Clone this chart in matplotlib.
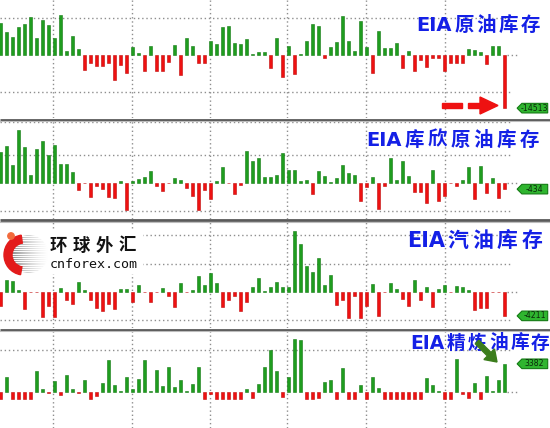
import matplotlib
matplotlib.use("Agg")
import matplotlib.pyplot as plt
import matplotlib.patches as mpatches
import numpy as np

plt.rcParams['font.family'] = ['Noto Sans CJK SC', 'DejaVu Sans']

# weekly changes, thousand barrels
crude = [8.8, 6.2, 4.8, 7.5, 8.4, 10.3, 4.5, 9.5, 8.2, 4.7,
         10.9, 1.2, 5.2, 1.7, -4.1, -2.1, -2.9, -3.0, -2.3, -6.8,
         -2.7, -5.0, 2.3, 0.5, -4.5, 2.5, -4.4, -4.5, -1.8, 2.6,
         -5.5, 4.5, 2.5, -2.1, -2.1, 3.7, 3.0, 7.5, 8.0, 3.4,
         2.9, 4.3, 0.3, 0.9, 0.9, -3.6, 4.7, -6.1, 2.5, -5.2,
         0.2, 3.9, 8.4, 7.9, -0.7, 2.1, 3.5, 10.5, 3.8, 1.2,
         9.4, 2.3, -5.0, 6.6, 1.8, 1.8, 3.2, -3.5, 1.2, -4.3,
         -1.4, -3.2, -0.9, -0.9, -4.3, -2.3, -2.3, -2.3, 1.5, 1.4,
         0.9, -2.5, 2.5, 2.5, -14.513]

cushing = [2.16, 2.63, 1.25, 3.76, 2.51, 0.59, 2.40, 2.94, 2.00, 2.68,
           1.32, 1.34, 0.78, -0.52, -0.02, -0.99, -0.24, -0.42, -0.99, -1.06,
           0.14, -1.88, 0.12, 0.28, 0.42, 0.82, -0.19, -0.54, -0.02, 0.35,
           0.24, -0.35, -0.89, -1.93, -0.47, -1.10, 0.12, 1.13, -0.02, -0.75,
           -0.16, 2.28, 1.57, 1.76, 0.42, 0.42, 0.59, 2.12, 0.94, 0.94,
           0.16, 0.19, -0.75, 0.82, 0.52, 0.05, 0.35, 1.25, 0.71, 0.59,
           -1.25, -0.28, 0.42, -1.83, -0.24, 1.76, 0.24, 1.57, 0.47, -0.63,
           -0.66, -1.41, 0.94, -1.29, -0.94, -0.02, -0.19, 0.19, 1.13, -1.10,
           1.18, -0.71, 0.35, -1.06, -0.434]

gasoline = [-2.53, 2.18, 1.88, 0.41, -2.94, -0.06, -0.06, -4.47, -2.53, -4.47,
            0.71, -1.35, -2.12, 1.71, 0.41, -1.35, -2.82, -3.41, -2.12, -2.94,
            0.53, 0.59, -1.76, 1.18, -0.06, -1.76, -0.06, 0.71, -0.76, -2.70,
            1.59, -0.06, 0.41, 2.76, 1.29, 3.35, 1.59, -2.70, -1.35, -0.76,
            -3.29, -1.76, 0.82, 2.47, 0.24, 0.82, 1.71, 0.82, 0.82, 10.70,
            8.47, 4.53, 3.53, 6.00, 1.29, 3.06, -2.23, -1.35, -4.59, -0.76,
            -4.59, -2.53, 1.41, -4.29, -0.06, 1.59, 0.53, -1.23, -2.53, 2.06,
            -1.35, 0.82, -2.70, 0.59, 1.29, -0.06, 1.12, 0.82, 0.41, -3.12,
            -2.82, -2.82, -0.06, -0.06, -4.211]

distillate = [-0.88, 1.8, -0.88, -0.88, -0.88, -0.88, 2.48, 0.32, -0.08, 1.28,
              -0.32, 2.0, 0.32, -0.08, 1.48, -0.88, -0.52, 1.08, 3.8, 0.8,
              0.12, 1.8, 0.32, 1.6, 3.8, 0.16, 2.6, 0.72, 3.0, 0.56,
              1.4, 0.12, 0.92, 3.0, -0.88, -0.28, -0.88, -0.88, -0.88, -0.88,
              -0.88, 0.32, -0.72, 1.0, 3.0, 5.0, 2.52, -0.6, 1.8, 6.32,
              6.2, -0.88, -0.88, -0.72, 1.2, 1.4, -0.88, 2.88, -0.88, -0.88,
              0.88, -0.88, 1.8, 0.52, -0.88, -0.88, -0.88, -0.88, -0.88, -0.88,
              -0.88, 1.72, 0.8, 0.12, -0.88, -0.88, 4.0, -0.2, -0.72, 1.08,
              -0.88, 1.92, 0.12, 1.48, 3.382]

titles = ['原油库存', '库欣原油库存', '汽油库存', '精炼油库存']
last_labels = ['-14513', '-434', '-4211', '3382']

W, H = 550, 428
GREEN, GREEN_E = '#1f9d1f', '#137a13'
RED, RED_E = '#ee1111', '#c00a0a'
GRID = '#8e8e8e'
BLUE = '#1420e6'

# panel layout in pixels: (values, top, bottom, ylim top, ylim bottom, h-grid values)
panels = [
    (crude, 0, 118, 15.0, -17.2, [-10, 10]),
    (cushing, 120, 219, 4.44, -2.54, [-2, 2, 4.3]),
    (gasoline, 221, 328, 12.5, -6.35, [-5, 5, 10]),
    (distillate, 331, 428, 7.32, -4.32, [5]),
]
# title: right edge of last char, y centre, char pitch, font size
title_pos = [(541, 25, 22, 14), (541, 140, 23, 14), (544, 240, 24.5, 15), (551, 343, 21, 13.5)]
vgrid_px = [53, 132, 210, 287, 366, 445]

fig = plt.figure(figsize=(W / 100, H / 100), dpi=100)
fig.patch.set_facecolor('white')

xmin, xmax = -0.083, (W - 0.5) / 6
for k, (vals, top, bot, ytop, ybot, hgrid) in enumerate(panels):
    ax = fig.add_axes([0, 1 - bot / H, 1, (bot - top) / H])
    ax.set_xlim(xmin, xmax)
    ax.set_ylim(ybot, ytop)
    ax.axis('off')
    v = np.array(vals)
    x = np.arange(len(v))
    cols = np.where(v >= 0, GREEN, RED)
    ecols = np.where(v >= 0, GREEN_E, RED_E)
    ax.bar(x, v, width=0.6, color=cols, edgecolor=ecols, linewidth=0.4, zorder=3)
    for px in vgrid_px:
        ax.axvline((px - 0.5) / 6, color=GRID, lw=1, ls=(0, (1, 2)), zorder=1)
    ax.hlines(hgrid, xmin, 84.9, color=GRID, lw=1, ls=(0, (1, 2)), zorder=1)
    ax.hlines(0, len(v) - 0.5, 86.4, color=GRID, lw=1, ls=(0, (1, 2)), zorder=1)

    # value tag at the last bar
    hh = 4.8 * (ytop - ybot) / (bot - top)
    yv = v[-1]
    tag = mpatches.Polygon([(86.1, yv), (86.9, yv + hh), (91.2, yv + hh),
                            (91.2, yv - hh), (86.9, yv - hh)], closed=True,
                           fc='#2fb52f', ec='#137a13', lw=0.8, zorder=4)
    ax.add_patch(tag)
    ax.text(89.0, yv, last_labels[k], fontsize=5.6, color='#0b2a0b',
            ha='center', va='center', family='DejaVu Sans', zorder=5)

# overlay in pixel coordinates for separators, titles and decorations
ov = fig.add_axes([0, 0, 1, 1], zorder=10)
ov.set_xlim(0, W)
ov.set_ylim(H, 0)
ov.axis('off')
ov.patch.set_alpha(0)

for ysep in [119.5, 220.3, 329.8]:
    ov.plot([0, W], [ysep, ysep], color='#5a5a5a', lw=2.0, solid_capstyle='butt')
    ov.plot([0, W], [ysep + 1.6, ysep + 1.6], color='#bdbdbd', lw=0.8)

for t, (tx, ty, pitch, fs) in zip(titles, title_pos):
    n = len(t)
    for i, ch in enumerate(t):
        cx = tx - pitch * (n - 1 - i) - pitch / 2
        ov.text(cx, ty, ch, color=BLUE, fontsize=fs, ha='center', va='center',
                fontweight='bold')
    left = tx - pitch * n
    ov.text(left - 1, ty + 0.5, 'EIA', color=BLUE, fontsize=fs, ha='right',
            va='center', family='DejaVu Sans', fontweight='bold')

# red dashed arrow in crude panel
ov.add_patch(mpatches.Rectangle((442, 103), 20, 5, color=RED))
ov.add_patch(mpatches.Rectangle((468, 103), 14, 5, color=RED))
ov.add_patch(mpatches.Polygon([(480, 97), (480, 114), (498, 105.5)], color=RED))

# green arrow in distillate panel
ov.add_patch(mpatches.FancyArrow(477, 342, 20, 20, width=5, head_width=15,
                                 head_length=11, length_includes_head=True,
                                 color='#3b7d1c', zorder=6))

# logo
ov.add_patch(mpatches.Rectangle((0, 231), 142, 42, color='white', zorder=1))
disk = mpatches.Circle((29, 254), 19, transform=ov.transData)
grad = np.tile(np.linspace(0.55, 0.0, 60), (40, 1))
im = ov.imshow(grad, extent=[10, 48, 273, 235], cmap='Greys', vmin=0, vmax=1,
               aspect='auto', zorder=2)
im.set_clip_path(disk)
for yy in np.arange(236, 273, 2.2):
    ov.plot([8, 50], [yy, yy], color='white', lw=0.7, zorder=3)
ov.add_patch(mpatches.Wedge((24, 255), 20, 100, 262, width=8, color='#e31b1b', zorder=4))
ov.add_patch(mpatches.Circle((11, 236), 3.2, color='#f26a3c', zorder=4))
for i, ch in enumerate('环球外汇'):
    ov.text(58 + 23 * i, 246, ch, fontsize=12.5, fontweight='bold', color='#111111',
            ha='center', va='center', zorder=5)
ov.text(50, 264, 'cnforex.com', fontsize=9.6, family='DejaVu Sans Mono',
        color='#111111', ha='left', va='center', zorder=5)

fig.savefig('out.png', dpi=100, facecolor='white')
